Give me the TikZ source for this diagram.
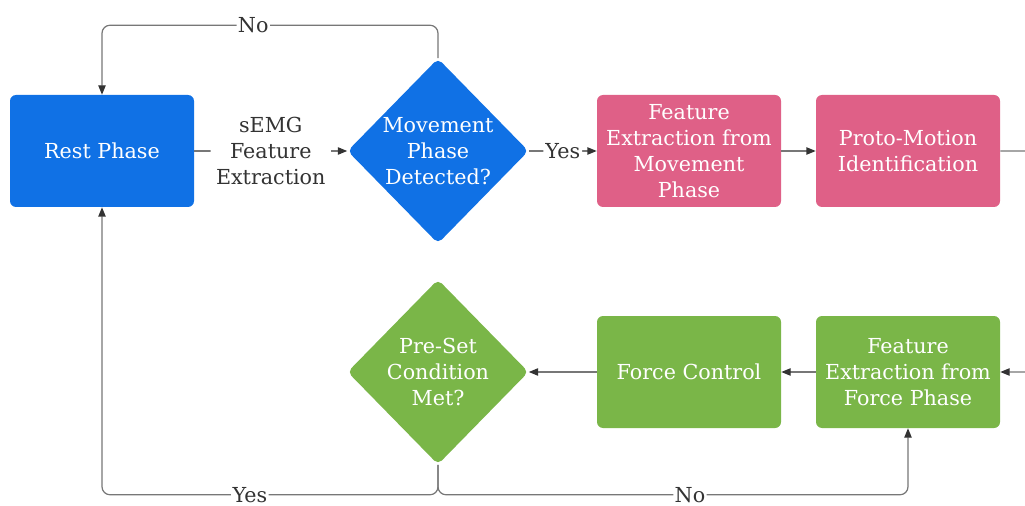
\documentclass[tikz,border=0pt]{standalone}
\usepackage{fontspec}
\setmainfont{DejaVu Serif}
\usetikzlibrary{shapes.geometric,arrows.meta}

\definecolor{restblue}{HTML}{1071E5}
\definecolor{movpink}{HTML}{DF6087}
\definecolor{forcegreen}{HTML}{7AB648}
\definecolor{wire}{HTML}{777777}
\definecolor{ink}{HTML}{333333}

\begin{document}
\begin{tikzpicture}[x=0.75pt, y=-0.75pt, font=\fontsize{15.5}{19.5}\selectfont]
	\tikzset{kasten/.style={rectangle, rounded corners=4.5pt, minimum width=138pt, minimum height=84pt, inner sep=0pt, text=white, align=center},
		raute/.style={diamond, aspect=1, rounded corners=4pt, minimum width=135.75pt, minimum height=138.75pt, inner sep=0pt},
		pfeil/.style={draw=wire, line width=0.9pt, rounded corners=6pt, -{Triangle[length=7pt, width=5.5pt, color=ink]}},
		beschr/.style={fill=white, text=ink, align=center, inner sep=2pt}}

	\useasboundingbox (0, 0) rectangle (1025, 506);

	\node[kasten, fill=restblue] at (102, 151) (rest) {Rest Phase};
	\node[raute, fill=restblue, label={[text=white, align=center]center:Movement\\Phase\\Detected?}] at (438, 151) (mov) {};
	\node[kasten, fill=movpink] at (689, 151) (mfeat) {Feature\\Extraction from\\Movement\\Phase};
	\node[kasten, fill=movpink] at (908, 151) (proto) {Proto-Motion\\Identification};
	\node[kasten, fill=forcegreen] at (908, 372) (ffeat) {Feature\\Extraction from\\Force Phase};
	\node[kasten, fill=forcegreen] at (689, 372) (force) {Force Control};
	\node[raute, fill=forcegreen, label={[text=white, align=center]center:Pre-Set\\Condition\\Met?}] at (438, 372) (pre) {};

	\draw[pfeil] (rest) -- node[beschr, inner sep=4pt] {sEMG\\Feature\\Extraction} (mov);
	\draw[pfeil] (mov) -- node[beschr, inner sep=1.5pt] {Yes} (mfeat);
	\draw[pfeil] (mfeat) -- (proto);
	\draw[pfeil] (proto.east) -- ++(45, 0) |- (ffeat.east);
	\draw[pfeil] (ffeat) -- (force);
	\draw[pfeil] (force) -- (pre);
	\draw[pfeil] (mov.north) -- ++(0, -33) -| node[beschr, pos=0.275, inner sep=1pt] {No} (rest.north);
	\draw[pfeil] (pre.south) -- ++(0, 30) -| node[beschr, pos=0.28, inner sep=1pt] {Yes} (rest.south);
	\draw[pfeil] (pre.south) -- ++(0, 30) -| node[beschr, pos=0.268, inner sep=1pt] {No} (ffeat.south);
\end{tikzpicture}
\end{document}
